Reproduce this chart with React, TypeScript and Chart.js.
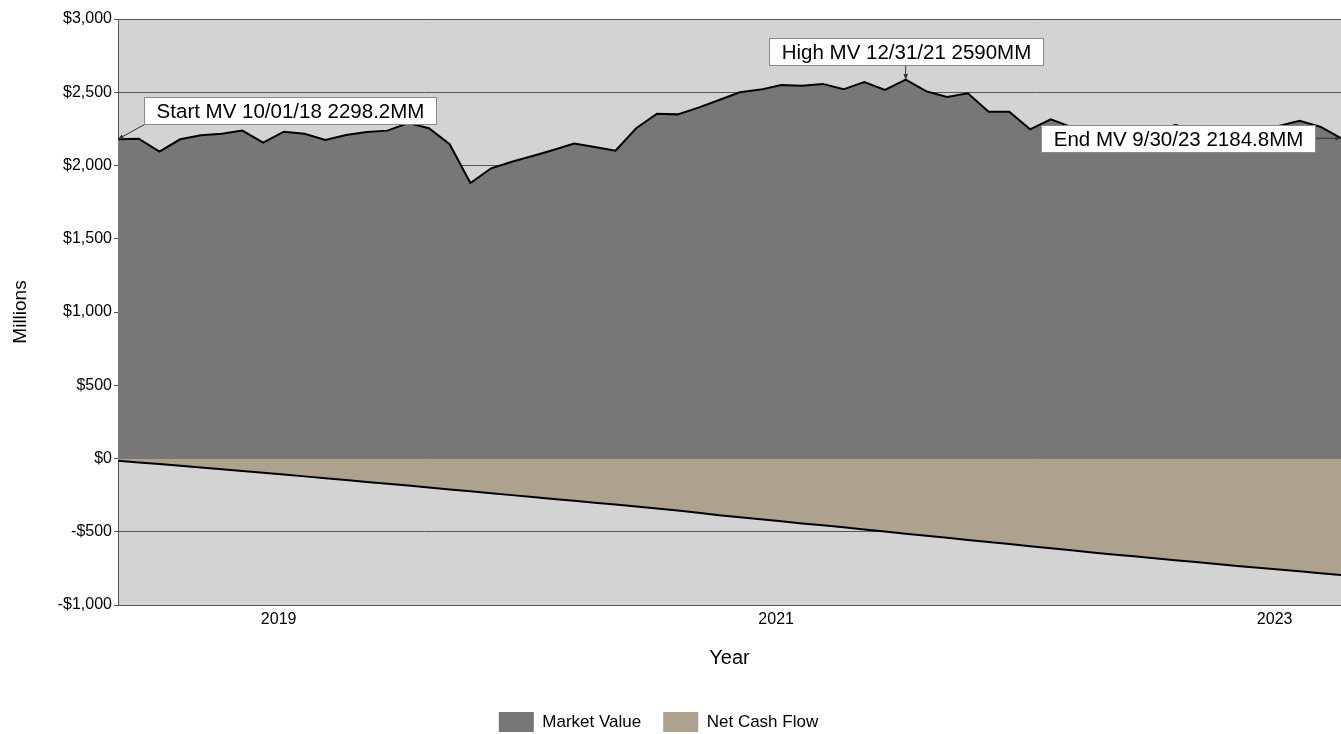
import React, { useEffect, useRef } from "react";
import { Chart, registerables } from "chart.js";

Chart.register(...registerables);

const FONT = '"Liberation Sans", Arial, Helvetica, sans-serif';

// Monthly observations, Oct 2018 .. Sep 2023
const months = [
  "Oct 2018", "Nov 2018", "Dec 2018",
  "Jan 2019", "Feb 2019", "Mar 2019", "Apr 2019", "May 2019", "Jun 2019",
  "Jul 2019", "Aug 2019", "Sep 2019", "Oct 2019", "Nov 2019", "Dec 2019",
  "Jan 2020", "Feb 2020", "Mar 2020", "Apr 2020", "May 2020", "Jun 2020",
  "Jul 2020", "Aug 2020", "Sep 2020", "Oct 2020", "Nov 2020", "Dec 2020",
  "Jan 2021", "Feb 2021", "Mar 2021", "Apr 2021", "May 2021", "Jun 2021",
  "Jul 2021", "Aug 2021", "Sep 2021", "Oct 2021", "Nov 2021", "Dec 2021",
  "Jan 2022", "Feb 2022", "Mar 2022", "Apr 2022", "May 2022", "Jun 2022",
  "Jul 2022", "Aug 2022", "Sep 2022", "Oct 2022", "Nov 2022", "Dec 2022",
  "Jan 2023", "Feb 2023", "Mar 2023", "Apr 2023", "May 2023", "Jun 2023",
  "Jul 2023", "Aug 2023", "Sep 2023",
];

// Market value ($MM)
const marketValue = [
  2180, 2183, 2095, 2179, 2206, 2217, 2238, 2156, 2231, 2217,
  2174, 2208, 2229, 2238, 2290, 2254, 2145, 1880, 1981, 2026,
  2065, 2106, 2150, 2126, 2101, 2254, 2354, 2349, 2395, 2447,
  2500, 2518, 2550, 2545, 2557, 2520, 2570, 2516, 2586, 2506,
  2468, 2493, 2367, 2367, 2247, 2315, 2262, 2150, 2200, 2245,
  2210, 2278, 2235, 2245, 2255, 2250, 2270, 2305, 2265, 2186,
];

// Cumulative net cash flow ($MM)
const netCashFlow = [
  -15, -27, -38, -50, -62, -74, -86, -97, -110, -122,
  -135, -147, -160, -172, -185, -198, -211, -224, -237, -250,
  -263, -276, -289, -302, -314, -328, -341, -355, -371, -388,
  -401, -415, -429, -443, -456, -470, -484, -498, -513, -527,
  -541, -556, -570, -584, -599, -613, -627, -641, -655, -668,
  -681, -694, -707, -720, -733, -746, -758, -770, -783, -795,
];

const yearTickValues = [7.75, 31.75, 55.8];
const yearTickLabels = ["2019", "2021", "2023"];

const noteIndex = [0, 38, 59];
const noteText = [
  "Start MV 10/01/18 2298.2MM",
  "High MV 12/31/21 2590MM",
  "End MV 9/30/23 2184.8MM",
];

const fmtMoney = (v: number) => {
  const s = Math.abs(v).toLocaleString("en-US");
  return v < 0 ? "-$" + s : "$" + s;
};

const plotBackground = {
  id: "plotBackground",
  beforeDraw(chart: any) {
    const { ctx, chartArea: a } = chart;
    ctx.save();
    ctx.fillStyle = "#D3D3D3";
    ctx.fillRect(a.left, a.top, a.right - a.left, a.bottom - a.top);
    ctx.restore();
  },
};

const legendNudge = {
  id: "legendNudge",
  afterLayout(chart: any) {
    const l = chart.legend;
    if (l) {
      l.left -= 12;
      l.right -= 12;
    }
  },
};

// placement of callout boxes relative to their anchor points
const noteLayout = [
  { dx: 172, dy: -28.5, attach: "bottomLeft" },
  { dx: 0, dy: -28.5, attach: "bottom" },
  { dx: -163.5, dy: 0.5, attach: "right" },
];

const callouts = {
  id: "callouts",
  afterDatasetsDraw(chart: any) {
    const { ctx } = chart;
    const xs = chart.scales.x;
    const ys = chart.scales.y;
    ctx.save();
    ctx.font = `20.5px ${FONT}`;
    noteIndex.forEach((idx, k) => {
      const text = noteText[k];
      const lay = noteLayout[k];
      const px = xs.getPixelForValue(idx);
      const py = ys.getPixelForValue(marketValue[idx]);
      const tw = ctx.measureText(text).width;
      const w = Math.round(tw + 24);
      const h = 27;
      const cx = px + lay.dx;
      const cy = py + lay.dy;
      const left = Math.round(cx - w / 2) + 0.5;
      const top = Math.round(cy - h / 2) + 0.5;
      let sx = cx;
      let sy = cy;
      if (lay.attach === "bottomLeft") {
        sx = left;
        sy = top + h;
      } else if (lay.attach === "bottom") {
        sx = px;
        sy = top + h;
      } else if (lay.attach === "right") {
        sx = left + w;
        sy = py;
      }
      // connector
      ctx.strokeStyle = "#333";
      ctx.lineWidth = 1;
      ctx.beginPath();
      ctx.moveTo(sx, sy);
      ctx.lineTo(px, py);
      ctx.stroke();
      const ang = Math.atan2(py - sy, px - sx);
      const len = 6;
      ctx.fillStyle = "#333";
      ctx.beginPath();
      ctx.moveTo(px, py);
      ctx.lineTo(px - len * Math.cos(ang - 0.4), py - len * Math.sin(ang - 0.4));
      ctx.lineTo(px - len * Math.cos(ang + 0.4), py - len * Math.sin(ang + 0.4));
      ctx.closePath();
      ctx.fill();
      // box
      ctx.fillStyle = "#FFFFFF";
      ctx.fillRect(left, top, w, h);
      ctx.strokeStyle = "#8A8A8A";
      ctx.strokeRect(left, top, w, h);
      ctx.fillStyle = "#000";
      ctx.textAlign = "center";
      ctx.textBaseline = "middle";
      ctx.fillText(text, left + w / 2, top + h / 2 + 1);
    });
    ctx.restore();
  },
};

export default function App() {
  const canvasRef = useRef<HTMLCanvasElement | null>(null);

  useEffect(() => {
    if (!canvasRef.current) return;
    Chart.defaults.font.family = FONT;
    Chart.defaults.color = "#000";

    const chart = new Chart(canvasRef.current, {
      type: "line",
      data: {
        labels: months,
        datasets: [
          {
            label: "Market Value",
            data: marketValue.map((v, i) => ({ x: i, y: v })),
            borderColor: "#000",
            borderWidth: 2,
            backgroundColor: "#777775",
            fill: "origin",
            pointRadius: 0,
            tension: 0,
          },
          {
            label: "Net Cash Flow",
            data: netCashFlow.map((v, i) => ({ x: i, y: v })),
            borderColor: "#000",
            borderWidth: 2,
            backgroundColor: "#AEA28F",
            fill: "origin",
            pointRadius: 0,
            tension: 0,
          },
        ],
      },
      options: {
        animation: false,
        responsive: true,
        maintainAspectRatio: false,
        layout: { padding: { left: 0, right: 0, top: 19, bottom: -8 } },
        plugins: {
          tooltip: { enabled: false },
          legend: {
            position: "bottom",
            align: "center",
            labels: {
              boxWidth: 35,
              boxHeight: 20,
              padding: 22,
              color: "#000",
              font: { size: 17, family: FONT },
              generateLabels: (c: any) =>
                (Chart.defaults.plugins.legend.labels as any)
                  .generateLabels(c)
                  .map((it: any) => ({ ...it, lineWidth: 0, strokeStyle: "rgba(0,0,0,0)" })),
            },
          },
        },
        scales: {
          x: {
            type: "linear",
            min: 0,
            max: months.length - 1,
            afterBuildTicks: (s: any) => {
              s.ticks = yearTickValues.map((v) => ({ value: v }));
            },
            afterFit: (s: any) => {
              s.height = 85;
            },
            ticks: {
              autoSkip: false,
              maxRotation: 0,
              color: "#000",
              font: { size: 16 },
              padding: 5,
              callback: (_v: any, i: number) => yearTickLabels[i],
            },
            grid: { display: false, drawTicks: false },
            border: { display: true, color: "#555", width: 1 },
            title: {
              display: true,
              text: "Year",
              color: "#000",
              font: { size: 20 },
              padding: { top: 4, bottom: 20 },
            },
          },
          y: {
            min: -1000,
            max: 3000,
            afterFit: (s: any) => {
              s.width = 118;
            },
            ticks: {
              stepSize: 500,
              color: "#000",
              font: { size: 16 },
              padding: 2,
              callback: (v: any) => fmtMoney(Number(v)),
            },
            grid: { color: "#555", lineWidth: 1, drawTicks: true, tickLength: 4, tickColor: "#555" },
            border: { display: true, color: "#555", width: 1 },
            title: {
              display: true,
              text: "Millions",
              color: "#000",
              font: { size: 19 },
              padding: { top: 9, bottom: 0 },
            },
          },
        },
      } as any,
      plugins: [plotBackground, legendNudge, callouts],
    });

    return () => chart.destroy();
  }, []);

  return (
    <div style={{ position: "absolute", left: 0, top: 0, width: 1341, height: 734, background: "#fff" }}>
      <canvas ref={canvasRef} />
    </div>
  );
}
